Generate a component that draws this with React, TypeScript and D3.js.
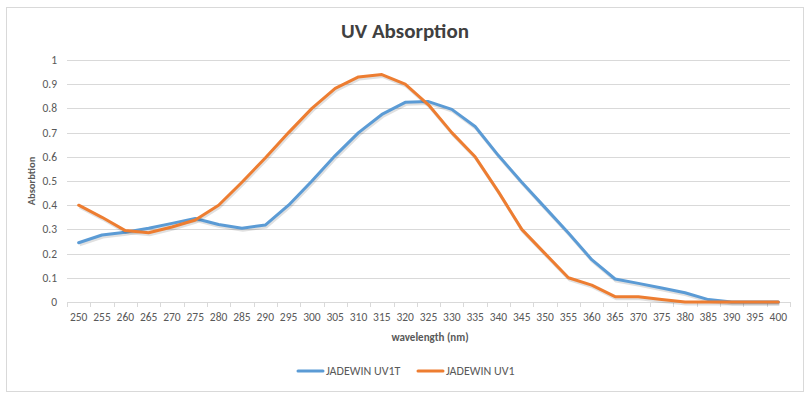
import { useEffect, useRef } from "react";
import * as d3 from "d3";

// wavelengths (nm)
const wavelengths = [
  250, 255, 260, 265, 270, 275, 280, 285, 290, 295, 300, 305, 310, 315, 320, 325,
  330, 335, 340, 345, 350, 355, 360, 365, 370, 375, 380, 385, 390, 395, 400,
];

// JADEWIN UV1T
const uv1t = [
  0.245, 0.277, 0.288, 0.305, 0.325, 0.345, 0.32, 0.305, 0.318, 0.4, 0.5, 0.605, 0.7, 0.775, 0.825, 0.828,
  0.796, 0.725, 0.605, 0.495, 0.39, 0.285, 0.175, 0.095, 0.077, 0.058, 0.038, 0.01, 0, 0, 0,
];

// JADEWIN UV1
const uv1 = [
  0.4, 0.35, 0.295, 0.286, 0.31, 0.339, 0.4, 0.495, 0.595, 0.7, 0.8, 0.883, 0.93, 0.94, 0.9, 0.815,
  0.7, 0.6, 0.455, 0.3, 0.2, 0.1, 0.07, 0.022, 0.022, 0.01, 0, 0, 0, 0, 0,
];

const yTicks = [0, 0.1, 0.2, 0.3, 0.4, 0.5, 0.6, 0.7, 0.8, 0.9, 1];

const seriesNames = ["JADEWIN UV1T", "JADEWIN UV1"];
const colors = ["#5B9BD5", "#ED7D31"];

export default function App() {
  const svgRef = useRef<SVGSVGElement>(null);

  useEffect(() => {
    if (!svgRef.current) return;
    const svg = d3.select(svgRef.current);
    svg.selectAll("*").remove();

    const font = "Calibri, 'Open Sans', 'Liberation Sans', sans-serif";
    const left = 67, right = 790, top = 60, bottom = 302;

    // chart frame
    svg.append("rect")
      .attr("x", 6.5).attr("y", 7.5)
      .attr("width", 797).attr("height", 384)
      .attr("fill", "white")
      .attr("stroke", "#d9d9d9");

    const x = d3.scaleBand<number>()
      .domain(wavelengths)
      .range([left, right]);
    const y = d3.scaleLinear().domain([0, 1]).range([bottom, top]);

    // gridlines
    svg.append("g")
      .selectAll("line")
      .data(yTicks.slice(1))
      .join("line")
      .attr("x1", left).attr("x2", right)
      .attr("y1", d => Math.round(y(d)) + 0.5)
      .attr("y2", d => Math.round(y(d)) + 0.5)
      .attr("stroke", "#d9d9d9");

    // y labels
    svg.append("g")
      .selectAll("text")
      .data(yTicks)
      .join("text")
      .attr("x", 57)
      .attr("y", d => y(d))
      .attr("dy", "0.35em")
      .attr("text-anchor", "end")
      .style("font-family", font)
      .style("font-size", "11.5px")
      .style("fill", "#595959")
      .text(d => String(d));

    // x axis
    svg.append("line")
      .attr("x1", left).attr("x2", right)
      .attr("y1", bottom + 0.5).attr("y2", bottom + 0.5)
      .attr("stroke", "#d9d9d9");

    svg.append("g")
      .selectAll("line")
      .data([...wavelengths.map(w => x(w)!), right])
      .join("line")
      .attr("x1", d => Math.round(d) + 0.5).attr("x2", d => Math.round(d) + 0.5)
      .attr("y1", bottom).attr("y2", bottom + 5)
      .attr("stroke", "#d9d9d9");

    svg.append("g")
      .selectAll("text")
      .data(wavelengths)
      .join("text")
      .attr("x", d => x(d)! + x.bandwidth() / 2)
      .attr("y", 321)
      .attr("text-anchor", "middle")
      .style("font-family", font)
      .style("font-size", "11.5px")
      .style("fill", "#595959")
      .text(d => String(d));

    // lines
    const line = d3.line<number>()
      .x((_, i) => x(wavelengths[i])! + x.bandwidth() / 2)
      .y(d => y(d));

    [uv1t, uv1].forEach((vals, i) => {
      svg.append("path")
        .datum(vals)
        .attr("d", line)
        .attr("fill", "none")
        .attr("stroke", "rgba(0,0,0,0.12)")
        .attr("stroke-width", 3)
        .attr("stroke-linejoin", "round")
        .attr("transform", "translate(1,2)");
      svg.append("path")
        .datum(vals)
        .attr("d", line)
        .attr("fill", "none")
        .attr("stroke", colors[i])
        .attr("stroke-width", 3)
        .attr("stroke-linejoin", "round")
        .attr("stroke-linecap", "round");
    });

    // title
    svg.append("text")
      .attr("x", 405).attr("y", 38)
      .attr("text-anchor", "middle")
      .style("font-family", font)
      .style("font-size", "21px")
      .style("font-weight", "600")
      .style("fill", "#404040")
      .text("UV Absorption");

    // axis titles
    svg.append("text")
      .attr("transform", "translate(35,181) rotate(-90)")
      .attr("text-anchor", "middle")
      .style("font-family", font)
      .style("font-size", "10.5px")
      .style("font-weight", "bold")
      .style("fill", "#595959")
      .text("Absorbtion");

    svg.append("text")
      .attr("x", 430).attr("y", 341)
      .attr("text-anchor", "middle")
      .style("font-family", font)
      .style("font-size", "11px")
      .style("font-weight", "bold")
      .style("fill", "#595959")
      .text("wavelength (nm)");

    // legend
    const legendX = [298, 418];
    seriesNames.forEach((name, i) => {
      const g = svg.append("g").attr("transform", `translate(${legendX[i]},371)`);
      g.append("line")
        .attr("x1", 0).attr("x2", 25)
        .attr("stroke", colors[i])
        .attr("stroke-width", 3)
        .attr("stroke-linecap", "round");
      g.append("text")
        .attr("x", 28).attr("dy", "0.35em")
        .style("font-family", font)
        .style("font-size", "12px")
        .style("fill", "#595959")
        .text(name);
    });
  }, []);

  return (
    <svg
      ref={svgRef}
      width={810}
      height={399}
      viewBox="0 0 810 399"
      style={{ position: "absolute", left: 0, top: 0, display: "block", background: "white" }}
    />
  );
}
